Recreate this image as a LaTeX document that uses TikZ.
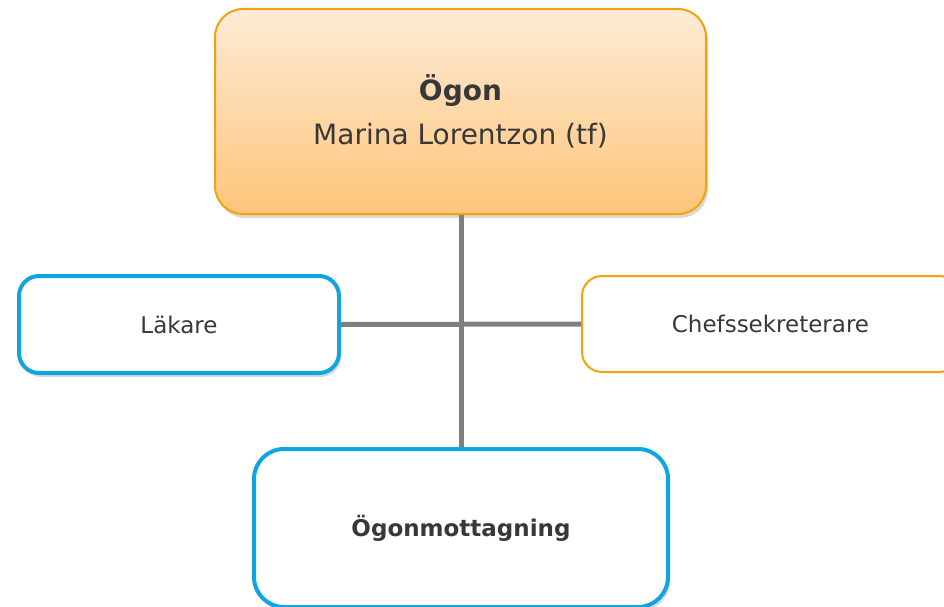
\documentclass[tikz,border=0pt]{standalone}
\usepackage{fontspec}
\setmainfont{DejaVu Sans}
\usetikzlibrary{shadows}
\definecolor{borange}{HTML}{F5A10F}
\definecolor{bblue}{HTML}{0EA5E0}
\definecolor{ltop}{HTML}{FDEBD6}
\definecolor{lbot}{HTML}{FEC57A}
\definecolor{conn}{HTML}{7F7F7F}
\definecolor{txt}{HTML}{383838}
\tikzset{
  boxshadow/.style={drop shadow={shadow xshift=2pt, shadow yshift=-4pt, opacity=0.25, fill=black!60}},
  headbox/.style={draw=borange, line width=2pt, rounded corners=28pt, top color=ltop, bottom color=lbot, boxshadow, align=center, text=txt, inner sep=0pt},
  bluebox/.style={draw=bblue, line width=4pt, fill=white, boxshadow, text=txt, inner sep=0pt},
  orangebox/.style={draw=borange, line width=2pt, fill=white, rounded corners=20pt, text=txt, inner sep=0pt},
  connector/.style={draw=conn, line width=5pt}
}
\begin{document}
\begin{tikzpicture}[x=1pt,y=-1pt]
\useasboundingbox (0,0) rectangle (944,607);
% connectors first (under boxes)
\node[headbox, minimum width=491pt, minimum height=205pt, font=\fontsize{28}{44}\selectfont] (head) at (460.5,111.5) {\textbf{Ögon}\\Marina Lorentzon (tf)};
\node[bluebox, rounded corners=20pt, minimum width=320pt, minimum height=97pt, font=\fontsize{23}{28}\selectfont] (lak) at (179,324.5) {Läkare};
\node[orangebox, minimum width=377pt, minimum height=96pt, font=\fontsize{23}{28}\selectfont] (chef) at (770.5,324) {Chefssekreterare};
\node[bluebox, rounded corners=30pt, minimum width=414pt, minimum height=158pt, font=\fontsize{23}{28}\selectfont\bfseries] (mott) at (461,528) {Ögonmottagning};
\begin{scope}[on background layer/.try]
\end{scope}
\draw[connector] (head.south -| 461,0) -- (mott.north -| 461,0);
\draw[connector] (lak.east) -- (chef.west);
\end{tikzpicture}
\end{document}
